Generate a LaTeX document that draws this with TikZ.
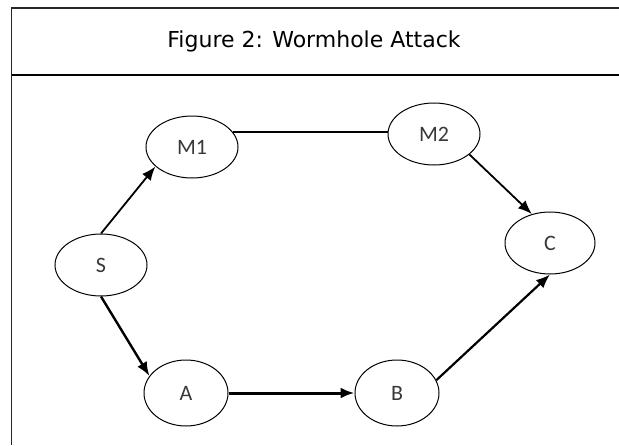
\documentclass[tikz,border=0pt]{standalone}
\usepackage{fontspec}
\setmainfont{DejaVu Sans}
\newfontfamily\labelfont{Carlito}
\usetikzlibrary{arrows.meta,shapes.geometric}
\begin{document}
\begin{tikzpicture}[x=1pt,y=-1pt,
  netnode/.style={draw=black,line width=1pt,ellipse,minimum width=#1,minimum height=62pt,inner sep=0pt,font=\labelfont\fontsize{22}{22}\selectfont,text=black!78},
  netnode/.default=92pt,
  link/.style={line width=#1,-{Latex[length=14pt,width=11pt]}},
  link/.default=1.8pt,
  frame/.style={line width=1.3pt,black!85}]
\useasboundingbox (0,0) rectangle (619,445);
% table frame with caption row
\draw[frame] (11.5,445) -- (11.5,8) -- (619,8);
\draw[line width=2pt] (11.5,75) -- (619,75);
\node (title) at (314,41) {\fontsize{22}{22}\selectfont Figure 2: Wormhole Attack};
% network nodes
\node[netnode] (M1) at (192,147) {M1};
\node[netnode] (M2) at (434,134) {M2};
\node[netnode] (S) at (101,265) {S};
\node[netnode=90pt] (C) at (550,243) {C};
\node[netnode=84pt,minimum height=66pt] (A) at (186,393) {A};
\node[netnode=84pt,minimum height=66pt] (B) at (397,393) {B};
% links
\draw[link] (S.north) -- (M1.208);
\draw[line width=1.2pt] (M1.20) -- (M1.20 -| M2.west);
\draw[link] (M2.-30) -- (C.122);
\draw[link=2.4pt] (S.south) -- (A.155);
\draw[link=3pt] (A.east) -- (B.west);
\draw[link=2.2pt] (B.18) -- (C.south);
\end{tikzpicture}
\end{document}
